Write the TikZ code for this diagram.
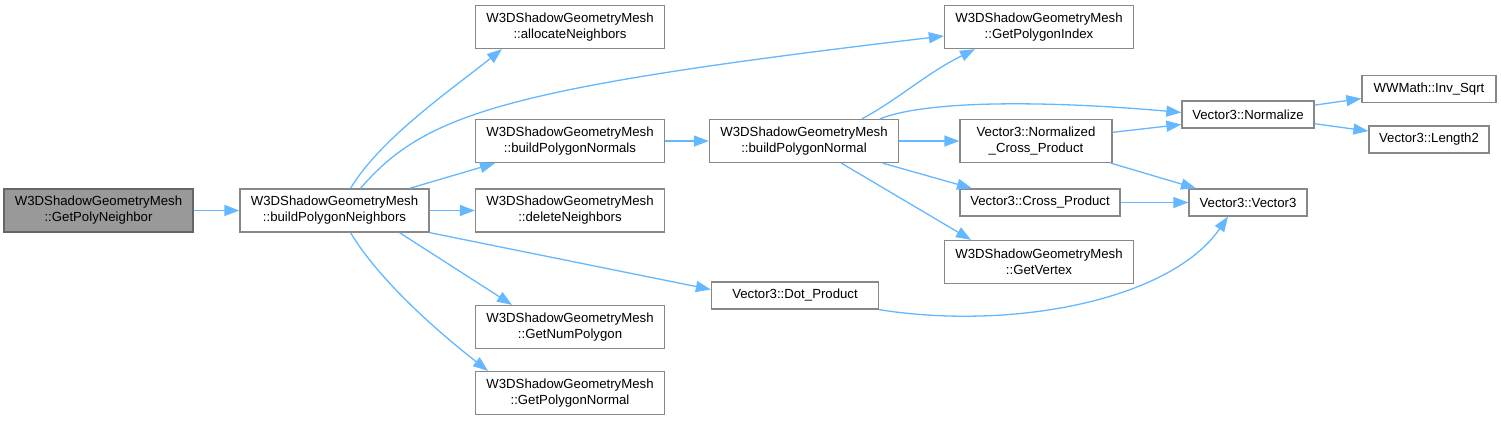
\documentclass[tikz,border=0pt]{standalone}
\usepackage{fontspec}
\setmainfont{Liberation Sans}
\usepackage{xcolor}
\usetikzlibrary{arrows.meta}
\definecolor{callblue}{HTML}{63B8FF}
\definecolor{boxline}{HTML}{888888}
\definecolor{rootfill}{HTML}{999999}
\definecolor{rootline}{HTML}{666666}
\def\boxw{189}
\tikzset{
  fn/.style={draw=boxline, fill=white, line width=1.3pt, align=center, inner sep=0pt,
    font=\fontsize{13.2}{16}\selectfont, minimum height=43pt, minimum width=\boxw pt},
  fn1/.style={fn, minimum height=27pt},
  root/.style={fn, fill=rootfill, draw=rootline},
  call/.style={draw=callblue, line width=1.3pt, -{Triangle[length=15pt, width=11pt]}},
}

\begin{document}
\begin{tikzpicture}[x=1pt, y=-1pt]

  \path[fill=white] (0,0) rectangle (1501,421);

  \node[root] (poly) at (98.5,210.5) {W3DShadowGeometryMesh\\::GetPolyNeighbor};
  \node[fn] (nbrs) at (334.5,210.5) {W3DShadowGeometryMesh\\::buildPolygonNeighbors};

  \node[fn] (alloc) at (570,27) {W3DShadowGeometryMesh\\::allocateNeighbors};
  \node[fn] (normals) at (570,141) {W3DShadowGeometryMesh\\::buildPolygonNormals};
  \node[fn] (delnbrs) at (570,210.5) {W3DShadowGeometryMesh\\::deleteNeighbors};
  \node[fn] (numpoly) at (570,327) {W3DShadowGeometryMesh\\::GetNumPolygon};
  \node[fn] (polynorm) at (570,393) {W3DShadowGeometryMesh\\::GetPolygonNormal};

  \node[fn] (normal) at (804,141) {W3DShadowGeometryMesh\\::buildPolygonNormal};
  \node[fn1, minimum width=167pt] (dot) at (795,295.5) {Vector3::Dot\_Product};

  \node[fn] (polyidx) at (1039,27) {W3DShadowGeometryMesh\\::GetPolygonIndex};
  \node[fn, minimum width=152pt] (ncross) at (1036,141) {Vector3::Normalized\\\_Cross\_Product};
  \node[fn1, minimum width=160pt] (cross) at (1040,202.5) {Vector3::Cross\_Product};
  \node[fn] (vertex) at (1039,262) {W3DShadowGeometryMesh\\::GetVertex};

  \node[fn1, minimum width=132pt] (normalize) at (1248,114.5) {Vector3::Normalize};
  \node[fn1, minimum width=118pt] (vec) at (1248,202.5) {Vector3::Vector3};
  \node[fn1, minimum width=134pt] (invsqrt) at (1429,89) {WWMath::Inv\_Sqrt};
  \node[fn1, minimum width=120pt] (len2) at (1429,139.5) {Vector3::Length2};

  \draw[call] (poly) -- (nbrs);
  \draw[call] ([xshift=16]nbrs.north) .. controls +(30,-50) and +(-50,40) .. ([xshift=-68]alloc.south);
  \draw[call] ([xshift=26]nbrs.north) .. controls +(65,-75) and +(-440,52) .. ([yshift=-9]polyidx.west);
  \draw[call] (nbrs) -- (normals);
  \draw[call] (nbrs) -- (delnbrs);
  \draw[call] (nbrs.south east) -- ([yshift=6]dot.west);
  \draw[call] ([xshift=65]nbrs.south) -- ([xshift=-58]numpoly.north);
  \draw[call] ([xshift=16]nbrs.south) .. controls +(30,50) and +(-45,-35) .. ([xshift=-82]polynorm.north);

  \draw[call] (normals) -- (normal);
  \draw[call] ([xshift=58]normal.north) .. controls +(40,-22) and +(-50,25) .. ([xshift=-64]polyidx.south);
  \draw[call] ([xshift=76]normal.north) .. controls +(50,-20) and +(-122,-11) .. ([yshift=2]normalize.west);
  \draw[call] (normal) -- (ncross);
  \draw[call] (normal) -- ([xshift=-68]cross.north);
  \draw[call] (normal) -- ([xshift=-68]vertex.north);

  \draw[call] (ncross) -- ([yshift=-10]normalize.west);
  \draw[call] (ncross) -- ([xshift=-52]vec.north);
  \draw[call] (cross) -- (vec);
  \draw[call] (dot.south east) .. controls +(132,21) and +(-58,84) .. ([xshift=-20]vec.south);

  \draw[call] (normalize) -- (invsqrt);
  \draw[call] (normalize) -- (len2);

\end{tikzpicture}
\end{document}
